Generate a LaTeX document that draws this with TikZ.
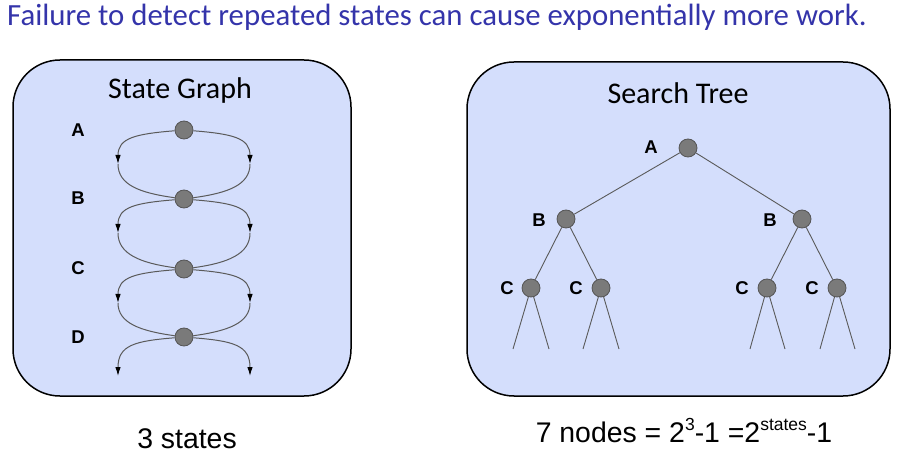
\documentclass[tikz,border=0pt]{standalone}
\usepackage{fontspec}
\setmainfont{Carlito}
\newfontfamily\arialf{Liberation Sans}
\usetikzlibrary{arrows.meta}
\definecolor{boxfill}{RGB}{212,222,252}
\definecolor{headblue}{RGB}{52,52,170}
\definecolor{nodefill}{RGB}{122,122,122}
\definecolor{nodeline}{RGB}{85,85,85}
\definecolor{edgegray}{RGB}{90,90,90}
\begin{document}
\begin{tikzpicture}[x=1pt,y=-1pt,
  panel/.style={draw=black,line width=1.5pt,fill=boxfill,rounded corners=47pt},
  st/.style={circle,fill=nodefill,draw=nodeline,line width=0.8pt,minimum size=18pt,inner sep=0pt},
  lab/.style={font=\arialf\bfseries\fontsize{18.5}{18.5}\selectfont,inner sep=0pt,anchor=center},
  link/.style={draw=edgegray,line width=1pt},
  arr/.style={link,-{Latex[length=9pt,width=5.5pt,color=black]}},
  treeedge/.style={draw=edgegray,line width=0.9pt},
  title/.style={font=\fontsize{30}{30}\selectfont,anchor=base,inner sep=0pt},
  foot/.style={font=\arialf\fontsize{28.4}{28.4}\selectfont,anchor=base,inner sep=0pt}
]
\useasboundingbox (0,0) rectangle (902,462);

% header
\node[anchor=base west,text=headblue,font=\fontsize{30.8}{30.8}\selectfont,inner sep=0pt] (head) at (7,26)
  {Failure to detect repeated states can cause exponentially more work.};

% panels
\path[panel] (13,60) rectangle (351,396);
\path[panel] (467,62) rectangle (890,396);

\node[title] (tg) at (180,99) {State Graph};
\node[title] (tt) at (678,104) {Search Tree};

% ---------- state graph ----------
\node[st] (A) at (184,130) {};
\node[st] (B) at (184,199) {};
\node[st] (C) at (184,269) {};
\node[st] (D) at (184,337) {};
\node[lab] (lA) at (78,130) {A};
\node[lab] (lB) at (78,198) {B};
\node[lab] (lC) at (78,268) {C};
\node[lab] (lD) at (78,337) {D};

\coordinate (abL) at (118,164);
\coordinate (abR) at (250,164);
\coordinate (bcL) at (118,233);
\coordinate (bcR) at (250,233);
\coordinate (cdL) at (118,303);
\coordinate (cdR) at (250,303);
\coordinate (dL) at (118,376);
\coordinate (dR) at (250,376);

\draw[arr] (A) .. controls (135,134) and (118,138) .. (abL);
\draw[link] (abL) .. controls (118,185) and (140,193) .. (B);
\draw[arr] (A) .. controls (233,134) and (250,138) .. (abR);
\draw[link] (abR) .. controls (250,185) and (228,193) .. (B);

\draw[arr] (B) .. controls (135,203) and (118,207) .. (bcL);
\draw[link] (bcL) .. controls (118,254) and (140,263) .. (C);
\draw[arr] (B) .. controls (233,203) and (250,207) .. (bcR);
\draw[link] (bcR) .. controls (250,254) and (228,263) .. (C);

\draw[arr] (C) .. controls (135,273) and (118,277) .. (cdL);
\draw[link] (cdL) .. controls (118,323) and (140,331) .. (D);
\draw[arr] (C) .. controls (233,273) and (250,277) .. (cdR);
\draw[link] (cdR) .. controls (250,323) and (228,331) .. (D);

\draw[arr] (D) .. controls (135,341) and (118,345) .. (dL);
\draw[arr] (D) .. controls (233,341) and (250,345) .. (dR);

% ---------- search tree ----------
\node[st] (tA) at (688,148) {};
\node[st] (tB1) at (566,219) {};
\node[st] (tB2) at (802,219) {};
\node[st] (tC1) at (531,288) {};
\node[st] (tC2) at (601,288) {};
\node[st] (tC3) at (767,288) {};
\node[st] (tC4) at (837,288) {};
\node[lab] (ltA) at (651,147) {A};
\node[lab] (ltB1) at (539,220) {B};
\node[lab] (ltB2) at (770,220) {B};
\node[lab] (ltC1) at (507,288) {C};
\node[lab] (ltC2) at (576,288) {C};
\node[lab] (ltC3) at (742,288) {C};
\node[lab] (ltC4) at (812,288) {C};

\draw[treeedge] (tA) -- (tB1);
\draw[treeedge] (tA) -- (tB2);
\draw[treeedge] (tB1) -- (tC1);
\draw[treeedge] (tB1) -- (tC2);
\draw[treeedge] (tB2) -- (tC3);
\draw[treeedge] (tB2) -- (tC4);

\coordinate (l1) at (513,349); \coordinate (l2) at (549,349);
\coordinate (l3) at (583,349); \coordinate (l4) at (619,349);
\coordinate (l5) at (750,349); \coordinate (l6) at (785,349);
\coordinate (l7) at (820,349); \coordinate (l8) at (855,349);
\draw[treeedge] (tC1) -- (l1); \draw[treeedge] (tC1) -- (l2);
\draw[treeedge] (tC2) -- (l3); \draw[treeedge] (tC2) -- (l4);
\draw[treeedge] (tC3) -- (l5); \draw[treeedge] (tC3) -- (l6);
\draw[treeedge] (tC4) -- (l7); \draw[treeedge] (tC4) -- (l8);

% ---------- footers ----------
\node[foot] (f1) at (187,448) {3 states};
\node[foot] (f2) at (684,442) {7 nodes = 2\raisebox{0.75ex}{\fontsize{17.5}{17.5}\selectfont 3}-1 =2\raisebox{0.75ex}{\fontsize{17.5}{17.5}\selectfont states}-1};
\end{tikzpicture}
\end{document}
